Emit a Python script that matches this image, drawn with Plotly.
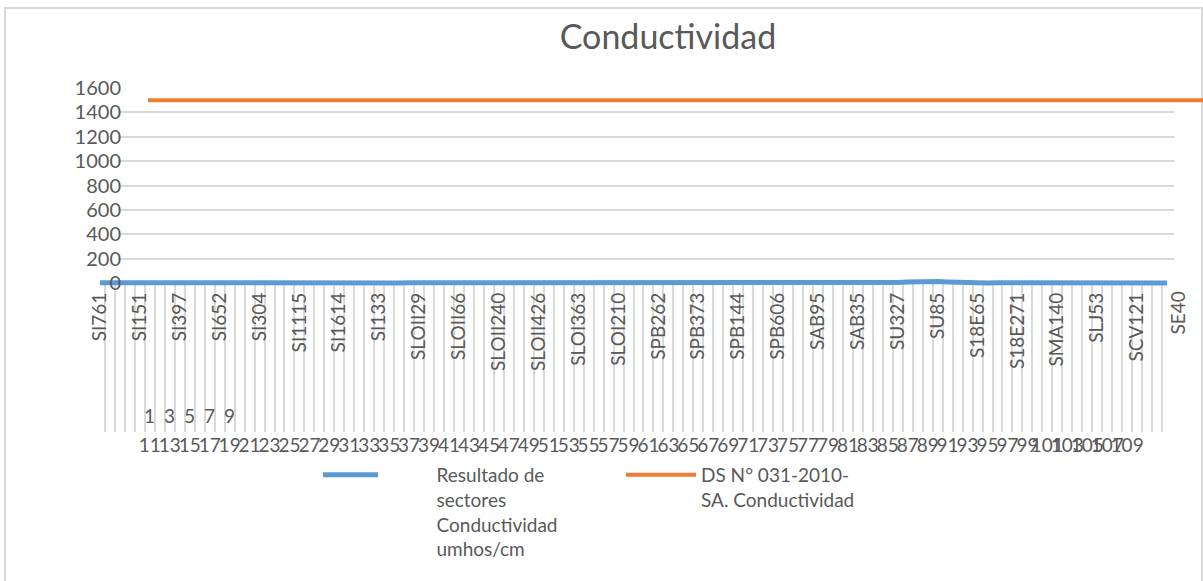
import plotly.graph_objects as go

W, H = 1203, 581

# Sector labels shown on the axis (every 4th station)
sector_labels = ["SI761", "SI151", "SI397", "SI652", "SI304", "SI1115", "SI1614",
                 "SI133", "SLOII29", "SLOII66", "SLOII240", "SLOII426", "SLOI363",
                 "SLOI210", "SPB262", "SPB373", "SPB144", "SPB606", "SAB95", "SAB35",
                 "SU327", "SU85", "S18E65", "S18E271", "SMA140", "SLJ53", "SCV121"]
extra_label = "SE40"

# Measured conductivity per station (umhos/cm), 108 stations
conductividad = [1.2, 0.9, 1.5, 1.1, 0.8, 1.3, 1.0, 1.4, 0.9, 1.2,
                 1.1, 0.8, 1.6, 1.0, 1.3, 0.9, 1.1, 1.4, 1.2, 0.8,
                 1.0, 1.3, 0.9, 1.5, 1.1, 1.2, 0.8, 1.0, 1.4, 1.1,
                 0.9, 1.3, 1.2, 1.0, 0.8, 1.5, 1.1, 0.9, 1.2, 1.4,
                 1.0, 1.3, 0.8, 1.1, 1.2, 0.9, 1.5, 1.0, 1.3, 1.1,
                 0.8, 1.2, 1.4, 0.9, 1.0, 1.3, 1.1, 1.2, 0.8, 1.5,
                 1.0, 0.9, 1.3, 1.1, 1.4, 1.2, 0.8, 1.0, 1.3, 0.9,
                 1.1, 1.5, 1.2, 1.0, 0.8, 1.3, 1.1, 1.4, 1.6, 2.5,
                 4.0, 7.5, 11.0, 12.5, 11.5, 8.0, 4.5, 2.2, 1.3, 1.0,
                 1.2, 0.9, 1.4, 1.1, 0.8, 1.3, 1.0, 1.2, 1.5, 0.9,
                 1.1, 1.3, 0.8, 1.2, 1.0, 1.4, 1.1, 0.9]
limite_ds = [1500] * 108

# Row numbers printed under the divider block
row_numbers = list(range(11, 110, 2))
row_numbers_top = [1, 3, 5, 7, 9]

y_ticks = list(range(0, 1601, 200))

n = len(conductividad)
cats = list(range(n))
FONT = "Lato"
GREY = "#595959"
GRID = "#D9D9D9"


def px_x(p):
    return p / W


def px_y(p):
    return 1 - p / H


fig = go.Figure()

# main series
pad = "\u00a0" * 11
fig.add_trace(go.Scatter(
    x=cats, y=conductividad, xaxis="x2", yaxis="y2", mode="lines",
    name=pad + "Resultado de<br>" + pad + "sectores<br>"
         + pad + "Conductividad<br>" + pad + "umhos/cm",
    line=dict(color="#5B9BD5", width=5), legend="legend"))

# norm line
fig.add_trace(go.Scatter(
    x=cats, y=limite_ds, xaxis="x3", yaxis="y3", mode="lines",
    name="DS N° 031-2010-<br>SA. Conductividad",
    line=dict(color="#ED7D31", width=4), legend="legend2"))

# dummy traces so the grid and divider subplots get drawn
fig.add_trace(go.Scatter(x=[0], y=[0], xaxis="x4", yaxis="y4", mode="markers",
                         marker=dict(opacity=0), showlegend=False, hoverinfo="skip"))
fig.add_trace(go.Scatter(x=[0], y=[0], xaxis="x", yaxis="y", mode="markers",
                         marker=dict(opacity=0), showlegend=False, hoverinfo="skip"))

plot_top, plot_bot = 88, 283
ymax = 1600
scale = (plot_bot - plot_top) / ymax      # px per unit
ylow = -40                                # room so the thick line is not clipped
ydom = [px_y(plot_bot), px_y(plot_top)]
ydom_ext = [px_y(plot_bot - ylow * scale), px_y(plot_top)]

xdom = [px_x(95), px_x(1172)]
xr = [-0.5, n - 0.5]
tick_pos = [i * 4 for i in range(len(sector_labels))]

fig.update_layout(
    width=W, height=H,
    margin=dict(l=0, r=0, t=0, b=0, autoexpand=False),
    paper_bgcolor="white", plot_bgcolor="rgba(0,0,0,0)",
    font=dict(family=FONT, size=19, color=GREY),
    title=dict(text="Conductividad", x=px_x(668), xanchor="center",
               y=px_y(37), yanchor="middle",
               font=dict(family=FONT, size=34, color=GREY)),
    # divider block under the plot
    xaxis=dict(domain=xdom, range=xr, anchor="y", showline=False, zeroline=False,
               showgrid=False, tickvals=[v - 6 for v in row_numbers],
               ticktext=[str(v) for v in row_numbers], tickangle=0,
               ticks="", ticklabelstandoff=0,
               tickfont=dict(family=FONT, size=19, color=GREY),
               minor=dict(tickvals=[i - 0.5 for i in range(n + 1)], showgrid=True,
                          gridcolor=GRID, gridwidth=2)),
    yaxis=dict(domain=[px_y(432), px_y(plot_bot)], range=[0, 1], visible=False),
    # blue series + sector labels
    xaxis2=dict(domain=xdom, range=xr, anchor="y2", showgrid=False, zeroline=False,
                showline=False, tickvals=tick_pos, ticktext=sector_labels,
                tickangle=-90, ticks="", ticklabelstandoff=0,
                tickfont=dict(family=FONT, size=19, color=GREY)),
    yaxis2=dict(domain=ydom_ext, range=[ylow, ymax], anchor="x2", visible=False),
    # orange norm line
    xaxis3=dict(domain=[px_x(148), 1.0], range=[0, n - 1], anchor="y3", visible=False),
    yaxis3=dict(domain=ydom_ext, range=[ylow, ymax], anchor="x3", visible=False),
    # gridlines and y labels
    xaxis4=dict(domain=[px_x(118), px_x(1174)], range=[0, 1], anchor="y4", visible=False),
    yaxis4=dict(domain=ydom, range=[0, ymax], anchor="x4", showgrid=False,
                zeroline=False, showline=False, tickvals=y_ticks, ticks="",
                ticklabelstandoff=-4,
                tickfont=dict(family=FONT, size=20, color=GREY),
                minor=dict(tickvals=y_ticks[1:], showgrid=True,
                           gridcolor=GRID, gridwidth=1.5)),
    legend=dict(x=px_x(318), y=px_y(456), xanchor="left", yanchor="top",
                bgcolor="rgba(0,0,0,0)", itemwidth=55, valign="top",
                font=dict(family=FONT, size=19, color=GREY)),
    legend2=dict(x=px_x(621), y=px_y(456), xanchor="left", yanchor="top",
                 bgcolor="rgba(0,0,0,0)", itemwidth=70, valign="top",
                 font=dict(family=FONT, size=19, color=GREY)),
    showlegend=True,
)

# upper row of single-digit numbers
for v in row_numbers_top:
    fig.add_annotation(x=v + 4, y=px_y(415), xref="x", yref="paper", text=str(v),
                       yanchor="middle", showarrow=False,
                       font=dict(family=FONT, size=19, color=GREY))

# last station label sits past the axis end
fig.add_annotation(x=px_x(1177), y=px_y(290), xref="paper", yref="paper",
                   text=extra_label, textangle=-90, xanchor="center", yanchor="top",
                   showarrow=False, font=dict(family=FONT, size=19, color=GREY))

# chart border
fig.add_shape(type="rect", xref="paper", yref="paper", x0=px_x(5), x1=px_x(1202),
              y0=-0.01, y1=px_y(8), line=dict(color=GRID, width=2), layer="below")

fig.write_html("out.html", config={"displayModeBar": False},
               post_script="document.body.style.margin='0';")
